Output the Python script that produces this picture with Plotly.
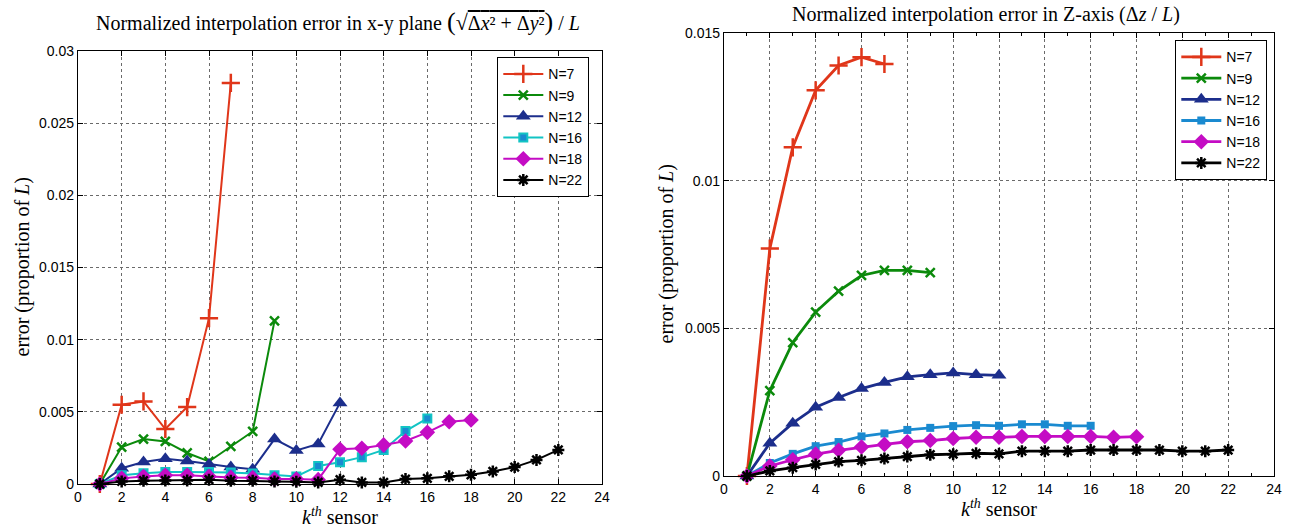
import plotly.graph_objects as go

# ---- data: normalized interpolation error in x-y plane ----
xy_n7 = [0, 0.00549, 0.00572, 0.00381, 0.00533, 0.01149, 0.02779]
xy_n9 = [0, 0.00256, 0.00311, 0.00295, 0.00215, 0.00156, 0.0026, 0.00364, 0.0113]
xy_n12 = [0, 0.00109, 0.00152, 0.00175, 0.00159, 0.00136, 0.00118, 0.00102, 0.00311, 0.00232, 0.00277, 0.00562]
xy_n16 = [0, 0.00061, 0.00075, 0.00084, 0.00084, 0.00084, 0.0008, 0.00073, 0.00061, 0.00052, 0.00125,
          0.00151, 0.00186, 0.00236, 0.00367, 0.00454]
xy_n18 = [0, 0.00039, 0.00052, 0.00061, 0.00061, 0.00052, 0.00045, 0.00043, 0.00034, 0.00034, 0.0003,
          0.00241, 0.00248, 0.00271, 0.00298, 0.00358, 0.00431, 0.00443]
xy_n22 = [0, 0.00018, 0.00023, 0.00025, 0.00025, 0.0003, 0.00023, 0.00023, 0.00018, 0.00016, 0.00011,
          0.0003, 0.00011, 0.00011, 0.00034, 0.00039, 0.00053, 0.00064, 0.00087, 0.00117, 0.00167, 0.00236]

# ---- data: normalized interpolation error in Z-axis ----
z_n7 = [0, 0.0077, 0.01113, 0.01306, 0.0139, 0.01418, 0.01395]
z_n9 = [0, 0.00289, 0.00452, 0.00555, 0.00626, 0.00679, 0.00696, 0.00696, 0.00689]
z_n12 = [0, 0.00111, 0.00179, 0.00233, 0.00266, 0.00296, 0.00317, 0.00336, 0.00343, 0.00349, 0.00343, 0.00341]
z_n16 = [0, 0.00044, 0.00075, 0.00101, 0.00115, 0.00134, 0.00144, 0.00156, 0.00163, 0.00169, 0.00172,
         0.0017, 0.00175, 0.00175, 0.0017, 0.0017]
z_n18 = [0, 0.00034, 0.00055, 0.00074, 0.00087, 0.00098, 0.00107, 0.00116, 0.0012, 0.00127, 0.00131,
         0.00131, 0.00134, 0.00134, 0.00134, 0.00134, 0.00131, 0.00133]
z_n22 = [0, 0.00017, 0.00028, 0.00039, 0.00049, 0.00053, 0.00059, 0.00066, 0.00072, 0.00074, 0.00077,
         0.00075, 0.00084, 0.00084, 0.00084, 0.00088, 0.00088, 0.00088, 0.00088, 0.00084, 0.00084, 0.00088]

labels = ["N=7", "N=9", "N=12", "N=16", "N=18", "N=22"]
xy_series = [xy_n7, xy_n9, xy_n12, xy_n16, xy_n18, xy_n22]
z_series = [z_n7, z_n9, z_n12, z_n16, z_n18, z_n22]

colors_left = ["#e0361a", "#0b8a0b", "#1c2e8c", "#12c4c4", "#c40cc4", "#000000"]
colors_right = ["#e0361a", "#0b8a0b", "#1c2e8c", "#1a8ad0", "#c40cc4", "#000000"]
symbols = ["cross-thin", "x-thin", "triangle-up", "square", "diamond", "asterisk"]
msizes = [13, 9, 13, 8, 12, 10]
line_markers = {"cross-thin", "x-thin", "asterisk"}

fig = go.Figure()


def add_series(series, colors, xa, ya, legend, lw):
    for i, vals in enumerate(series):
        ks = list(range(1, len(vals) + 1))
        sym = symbols[i]
        c = colors[i]
        if sym in line_markers:
            marker = dict(symbol=sym, size=msizes[i], color=c, line=dict(color=c, width=2.5))
        elif sym == "square" and legend == "legend":
            marker = dict(symbol=sym, size=msizes[i], color="#1a8ad0", line=dict(color=c, width=2))
        else:
            marker = dict(symbol=sym, size=msizes[i], color=c, line=dict(color=c, width=0))
        fig.add_trace(go.Scatter(
            x=ks, y=vals, mode="lines+markers", name=labels[i],
            line=dict(color=c, width=lw), marker=marker,
            xaxis=xa, yaxis=ya, legend=legend, cliponaxis=False))


add_series(xy_series, colors_left, "x", "y", "legend", 2)
add_series(z_series, colors_right, "x2", "y2", "legend2", 2.8)

W, H = 1290, 531
# plot area pixel boxes
L1, R1, T1, B1 = 78, 602, 51, 484
L2, R2, T2, B2 = 724, 1274, 33, 476

axis_common = dict(
    showline=True, linecolor="black", linewidth=1.3, mirror="ticks",
    ticks="inside", ticklen=5, tickcolor="black", tickwidth=1,
    showgrid=True, gridcolor="#6a6a6a", griddash="dot", gridwidth=1,
    zeroline=False, automargin=False,
    tickfont=dict(family="Liberation Sans, Arial, sans-serif", size=14, color="black"),
)

fig.update_layout(
    width=W, height=H,
    margin=dict(l=0, r=0, t=0, b=0, autoexpand=False),
    paper_bgcolor="white", plot_bgcolor="white",
    font=dict(family="Liberation Sans, Arial, sans-serif", color="black"),
    xaxis=dict(axis_common, domain=[L1 / W, R1 / W], range=[0, 24], dtick=2, tick0=0,
               anchor="y"),
    yaxis=dict(axis_common, domain=[1 - B1 / H, 1 - T1 / H], range=[0, 0.03], dtick=0.005,
               tick0=0, anchor="x"),
    xaxis2=dict(axis_common, domain=[L2 / W, R2 / W], range=[0, 24], dtick=2, tick0=0,
                anchor="y2", minor=dict(ticks="inside", ticklen=3, dtick=1, tickcolor="black",
                                        showgrid=False)),
    yaxis2=dict(axis_common, domain=[1 - B2 / H, 1 - T2 / H], range=[0, 0.015], dtick=0.005,
                tick0=0, anchor="x2"),
    legend=dict(x=497 / W, y=1 - 57 / H, xanchor="left", yanchor="top",
                bgcolor="white", bordercolor="black", borderwidth=1.3,
                font=dict(family="Liberation Sans, Arial, sans-serif", size=14),
                tracegroupgap=0, itemwidth=40),
    legend2=dict(x=1175 / W, y=1 - 40 / H, xanchor="left", yanchor="top",
                 bgcolor="white", bordercolor="black", borderwidth=1.3,
                 font=dict(family="Liberation Sans, Arial, sans-serif", size=14),
                 tracegroupgap=0, itemwidth=40),
)

serif = "Liberation Serif, DejaVu Serif, serif"
annots = [
    dict(text="Normalized interpolation error in x-y plane <span style='font-size:26px'>(</span>"
              "<span style='font-size:22px'>√</span><span style='text-decoration:overline'>Δ<i>x</i>² + Δ<i>y</i>²</span>"
              "<span style='font-size:26px'>)</span> / <i>L</i>",
         x=338 / W, y=1 - 22 / H, size=20),
    dict(text="Normalized interpolation error in Z-axis (Δ<i>z</i> / <i>L</i>)",
         x=986 / W, y=1 - 14 / H, size=20),
    dict(text="<i>k</i><sup><i>th</i></sup> sensor", x=(L1 + R1) / 2 / W, y=1 - 516 / H, size=20),
    dict(text="<i>k</i><sup><i>th</i></sup> sensor", x=(L2 + R2) / 2 / W, y=1 - 508 / H, size=20),
]
for a in annots:
    fig.add_annotation(text=a["text"], x=a["x"], y=a["y"], xref="paper", yref="paper",
                       xanchor="center", yanchor="middle", showarrow=False,
                       font=dict(family=serif, size=a["size"], color="black"))

for xc, yc in [(22, (T1 + B1) / 2), (666, (T2 + B2) / 2)]:
    fig.add_annotation(text="error (proportion of <i>L</i>)", x=xc / W, y=1 - yc / H,
                       xref="paper", yref="paper", xanchor="center", yanchor="middle",
                       textangle=-90, showarrow=False,
                       font=dict(family=serif, size=20, color="black"))

fig.write_html("out.html", config={"displayModeBar": False},
               post_script="document.body.style.margin='0';document.body.style.overflow='hidden';")
